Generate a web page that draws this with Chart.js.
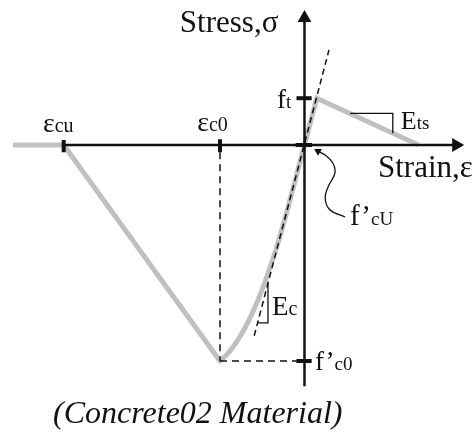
<!DOCTYPE html>
<html>
<head>
<meta charset="utf-8">
<title>Concrete02 Material</title>
<script src="https://cdn.jsdelivr.net/npm/chart.js@4.4.1/dist/chart.umd.min.js"></script>
<style>
  html, body { margin: 0; padding: 0; background: #fff; }
  #wrap { width: 475px; height: 433px; position: relative; }
</style>
</head>
<body>
<div id="wrap"><canvas id="stressStrain"></canvas></div>
<script>
// strain in per mille, stress in MPa (compression negative)
const EPS_CU = -5.7;
const EPS_C0 = -2.0;
const EPS_T = 0.29;
const EPS_TU = 2.7;
const FC0 = -30;
const FT = 6.5;

// crushing branch: residual plateau and linear softening back to the peak
const crushStrain = [-6.9, EPS_CU, EPS_C0];
const crushStress = [0, 0, FC0];

// ascending compression curve, peak to origin
const riseStrain = [EPS_C0, -1.846, -1.704, -1.515, -1.325, -1.136, -0.947, -0.757, -0.568, -0.379, -0.189, 0];
const riseStress = [FC0, -29.15, -28.17, -26.5, -24.46, -22.03, -19.21, -16.01, -12.42, -8.44, -4.22, 0];

// tension: linear up to ft, then softening with slope Ets
const tensionStrain = [0, EPS_T, EPS_TU];
const tensionStress = [0, FT, 0];

// initial tangent Ec
const tangentStrain = [-1.19, 0.58];
const tangentStress = [-26.5, 13.2];

// leader from the f'cU label to the origin
const leaderStrain = [0.96, 0.60, 0.49, 0.56, 0.72, 0.67, 0.49, 0.32];
const leaderStress = [-10.0, -9.0, -7.4, -5.8, -3.9, -2.5, -1.4, -0.87];

// slope markers
const etsStrain = [1.08, 2.09, 2.09];
const etsStress = [4.4, 4.4, 1.64];
const ecStrain = [-0.864, -0.864, -1.10];
const ecStress = [-19.2, -24.7, -24.7];

const pts = (xs, ys) => xs.map((v, i) => ({ x: v, y: ys[i] }));

const GRAY = '#c0c0c0';
const INK = '#111';
const SERIF = '"Liberation Serif", "Times New Roman", serif';

const line = (data, extra) => Object.assign({
  type: 'line', data, showLine: true, fill: false,
  borderColor: INK, borderWidth: 1.5, pointRadius: 0, tension: 0, order: 0
}, extra);

const datasets = [
  // axes with arrow heads on the far end
  line(pts([EPS_CU, 3.59], [0, 0]), {
    borderWidth: 2.5, pointRadius: [0, 8], pointStyle: 'triangle',
    pointRotation: 90, pointBackgroundColor: INK, pointBorderWidth: 0
  }),
  line(pts([0, 0], [-33.5, 17.64]), {
    borderWidth: 2.5, pointRadius: [0, 8], pointStyle: 'triangle',
    pointRotation: 0, pointBackgroundColor: INK, pointBorderWidth: 0
  }),
  // tick marks
  line(pts([EPS_CU, EPS_CU], [0.7, -1.0]), { borderWidth: 4 }),
  line(pts([EPS_C0, EPS_C0], [0.8, -1.0]), { borderWidth: 4 }),
  line(pts([-0.19, 0.17], [FT, FT]), { borderWidth: 4 }),
  line(pts([-0.19, 0.17], [FC0, FC0]), { borderWidth: 4 }),
  line(pts([-0.21, 0.18], [0, 0]), { borderWidth: 4 }),
  // dashed guides
  line(pts([EPS_C0, EPS_C0], [-1.0, FC0]), { borderDash: [7, 5] }),
  line(pts([EPS_C0, 0], [FC0, FC0]), { borderDash: [7, 5] }),
  line(pts(tangentStrain, tangentStress), { borderDash: [6, 4] }),
  // slope triangles
  line(pts(etsStrain, etsStress), { borderWidth: 1.3 }),
  line(pts(ecStrain, ecStress), { borderWidth: 1.3 }),
  // curved leader with arrow
  line(pts(leaderStrain, leaderStress), {
    borderWidth: 1.3, tension: 0.4,
    pointRadius: leaderStrain.map((v, i) => i === leaderStrain.length - 1 ? 4.5 : 0),
    pointStyle: 'triangle', pointRotation: -60,
    pointBackgroundColor: INK, pointBorderWidth: 0
  }),
  // material envelope
  line(pts(crushStrain, crushStress), { borderColor: GRAY, borderWidth: 5, order: 10 }),
  line(pts(riseStrain, riseStress), {
    borderColor: GRAY, borderWidth: 5, order: 10,
    cubicInterpolationMode: 'monotone', borderCapStyle: 'round'
  }),
  line(pts(tensionStrain, tensionStress), { borderColor: GRAY, borderWidth: 5, order: 10 })
];

// text items: main glyphs plus a smaller trailing part
const labels = [
  { main: 'Stress,σ', at: [-2.95, 15.7], size: 31 },
  { main: 'Strain,ε', at: [1.74, -4.44], size: 31 },
  { main: 'ε', sub: 'cu', at: [-6.19, 1.81], size: 28, subSize: 20 },
  { main: 'ε', sub: 'c0', at: [-2.54, 1.94], size: 28, subSize: 20 },
  { main: 'f', sub: 't', at: [-0.65, 5.14], size: 27, subSize: 19 },
  { main: 'E', sub: 'ts', at: [2.28, 2.22], size: 26, subSize: 19 },
  { main: 'f’', sub: 'cU', at: [1.08, -11.1], size: 29, subSize: 19 },
  { main: 'E', sub: 'c', at: [-0.77, -23.6], size: 27, subSize: 20 },
  { main: 'f’', sub: 'c0', at: [0.25, -31.25], size: 27, subSize: 19 },
  { main: '(Concrete02 Material)', at: [-5.95, -38.6], size: 32, italic: true }
];

const figureLabels = {
  id: 'figureLabels',
  afterDatasetsDraw(chart) {
    const { ctx, scales: { x, y } } = chart;
    ctx.save();
    ctx.fillStyle = INK;
    ctx.textAlign = 'left';
    ctx.textBaseline = 'alphabetic';
    labels.forEach(l => {
      let px = x.getPixelForValue(l.at[0]);
      const py = y.getPixelForValue(l.at[1]);
      ctx.font = (l.italic ? 'italic ' : '') + l.size + 'px ' + SERIF;
      ctx.fillText(l.main, px, py);
      if (l.sub) {
        px += ctx.measureText(l.main).width;
        ctx.font = l.subSize + 'px ' + SERIF;
        ctx.fillText(l.sub, px, py);
      }
    });
    ctx.restore();
  }
};

new Chart(document.getElementById('stressStrain'), {
  type: 'scatter',
  data: { datasets },
  options: {
    responsive: true,
    maintainAspectRatio: false,
    animation: false,
    events: [],
    layout: { padding: 0, autoPadding: false },
    scales: {
      x: { type: 'linear', min: -7.207, max: 4.036, display: false },
      y: { type: 'linear', min: -40, max: 20.14, display: false }
    },
    plugins: {
      legend: { display: false },
      tooltip: { enabled: false }
    }
  },
  plugins: [figureLabels]
});
</script>
</body>
</html>
